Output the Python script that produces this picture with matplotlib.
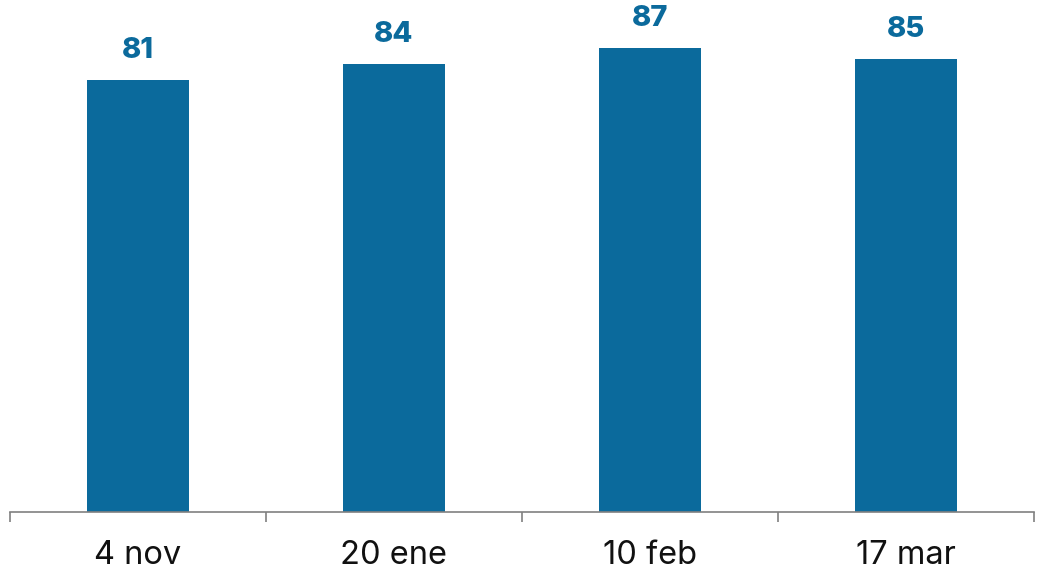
import matplotlib
matplotlib.use("Agg")
import matplotlib.pyplot as plt

categories = ["4 nov", "20 ene", "10 feb", "17 mar"]
values = [81, 84, 87, 85]

bar_color = "#0b6a9c"
plt.rcParams['font.family'] = ['Inter', 'DejaVu Sans']

fig = plt.figure(figsize=(10.38, 5.70), dpi=100)
ax = fig.add_axes([10/1038, 1 - 512/570, 1024/1038, 512/570])
x = list(range(len(categories)))
bars = ax.bar(x, values, width=0.4, color=bar_color, zorder=2)
ax.set_xlim(-0.5, len(categories) - 0.5)
ax.set_ylim(0, 96)

for xi, v in zip(x, values):
    ax.annotate(str(v), (xi, v), xytext=(0, 15.5), textcoords="offset points",
                ha="center", va="baseline", fontsize=21, fontweight="heavy",
                color=bar_color)

for s in ["top", "right", "left"]:
    ax.spines[s].set_visible(False)
ax.spines["bottom"].set_color("#808080")
ax.spines["bottom"].set_linewidth(1.2)
ax.set_yticks([])
ax.set_xticks([i - 0.5 for i in range(len(categories) + 1)], minor=False)
ax.set_xticklabels([])
ax.set_xticks(x, minor=True)
ax.set_xticklabels(categories, minor=True)
ax.tick_params(axis="x", which="major", length=7.5, width=1.2, color="#808080")
ax.tick_params(axis="x", which="minor", length=0, pad=20, labelsize=23.5, labelcolor="#111111")

fig.savefig("out.png", dpi=100)
